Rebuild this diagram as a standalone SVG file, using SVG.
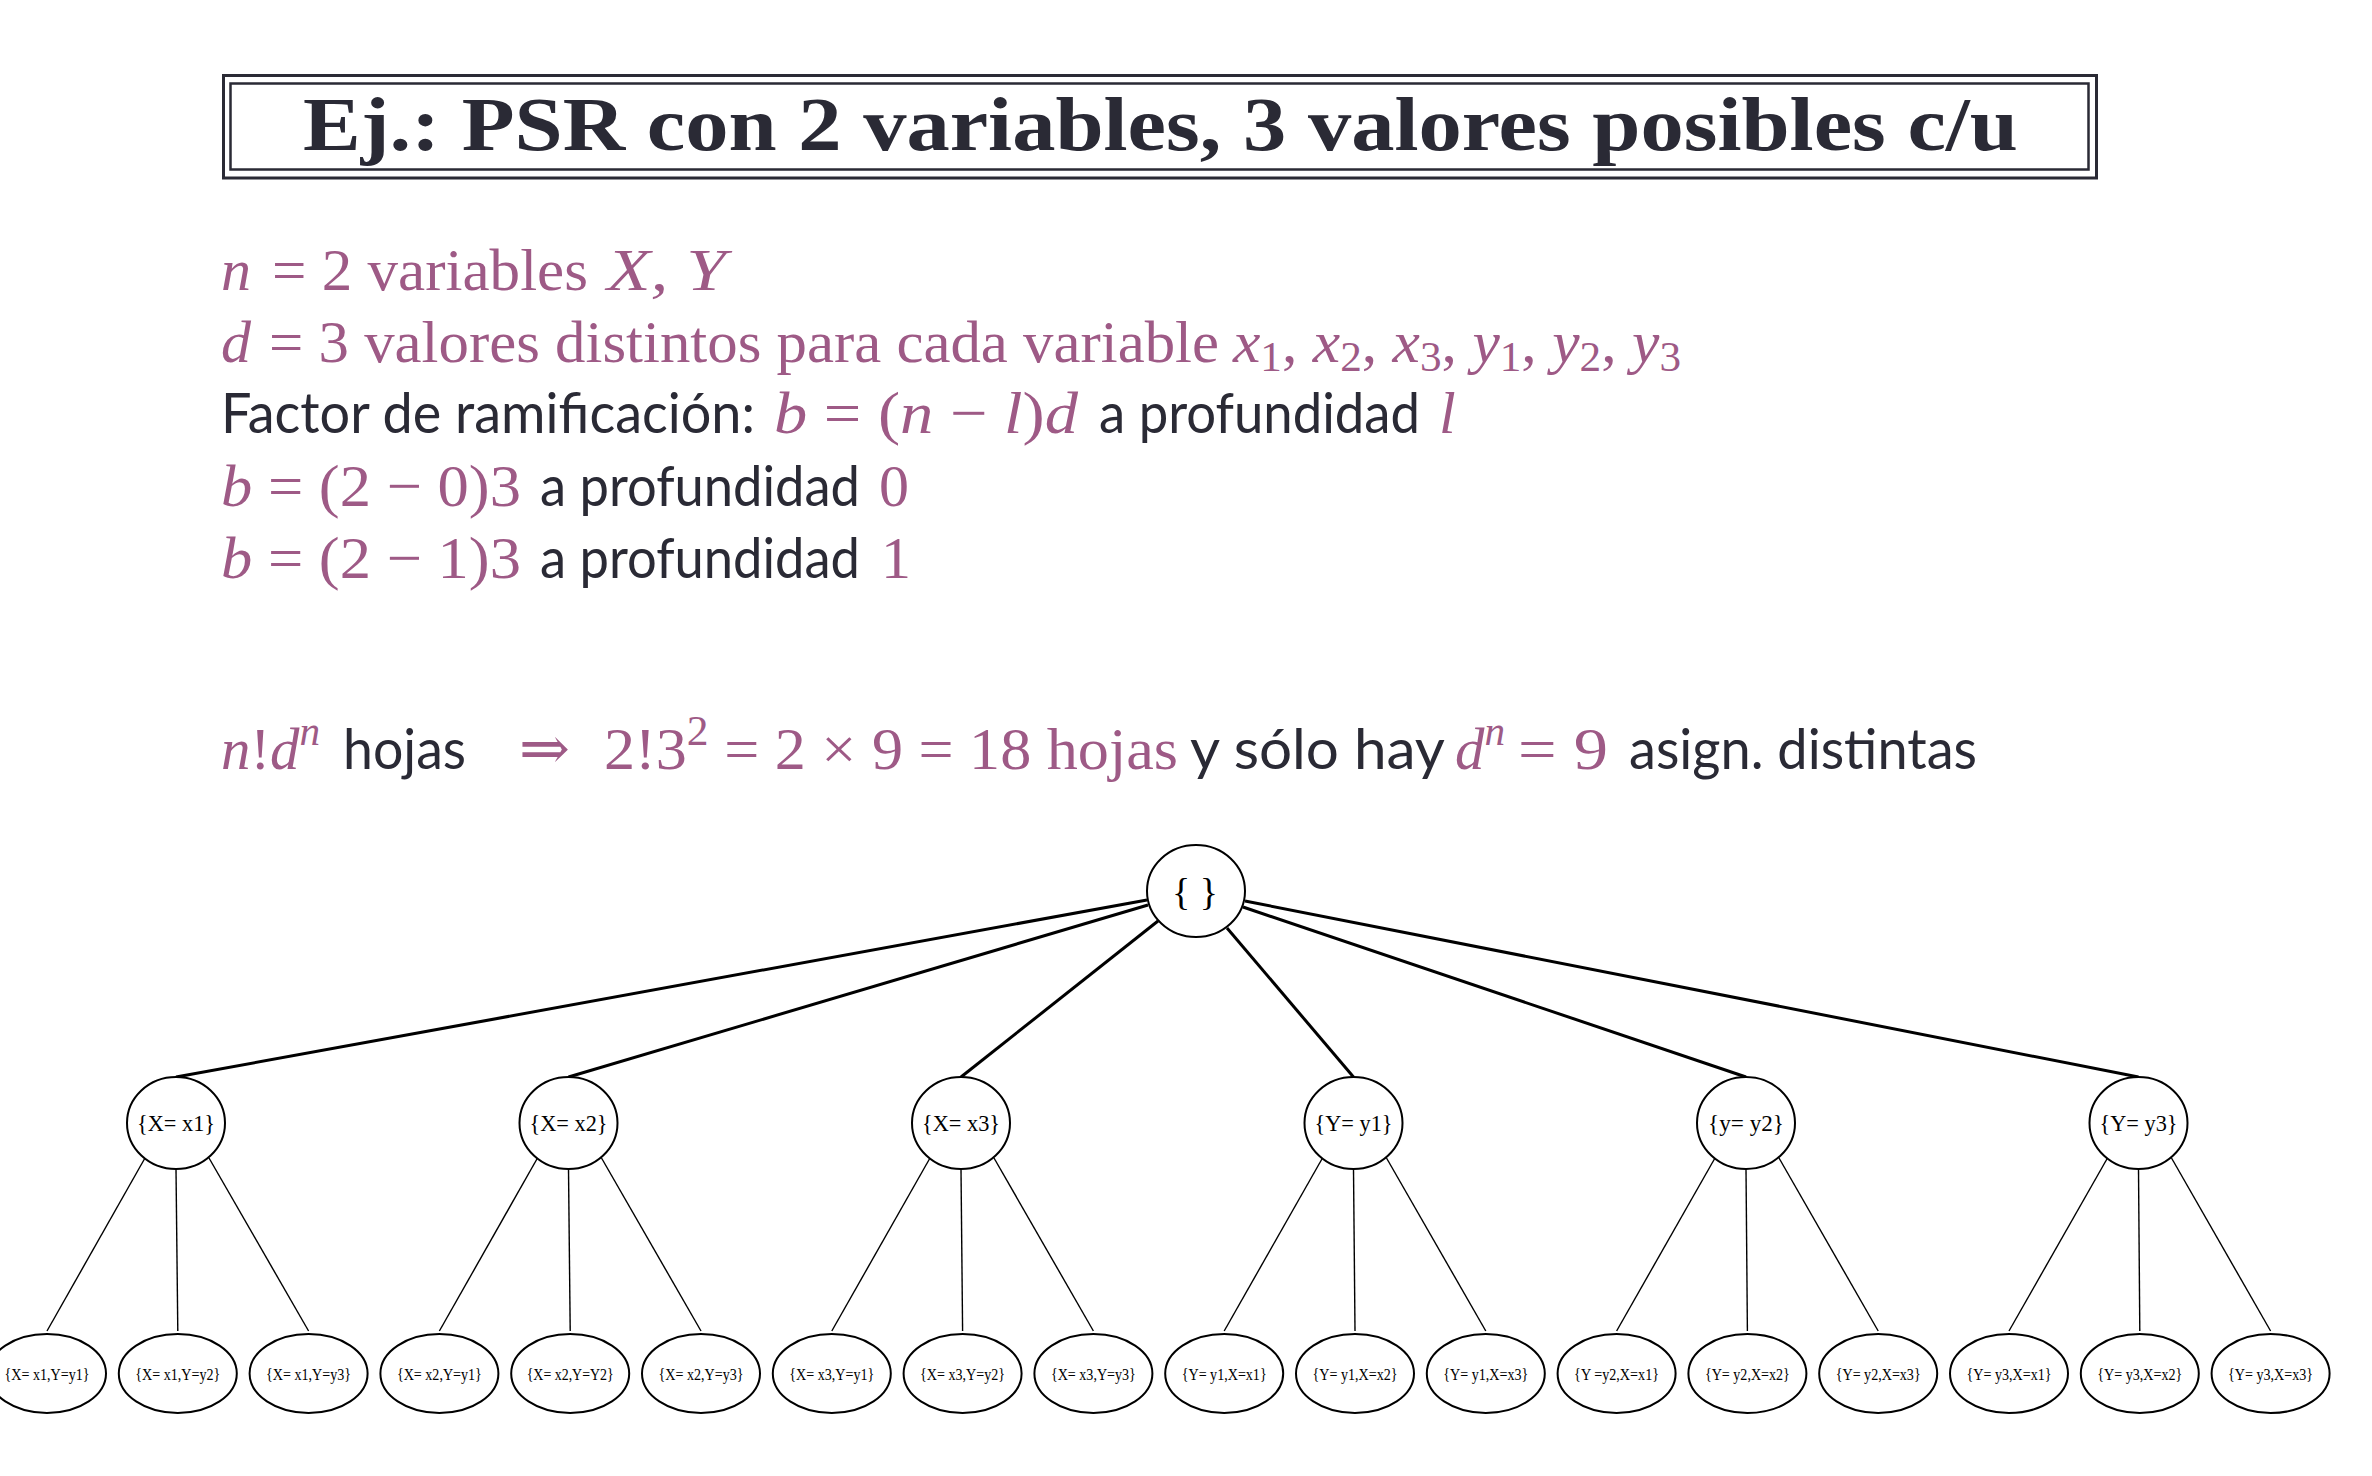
<svg xmlns="http://www.w3.org/2000/svg" width="2372" height="1476" viewBox="0 0 2372 1476">
<style>
.m{fill:#9e5a86;font-family:"Liberation Serif","DejaVu Serif",serif;font-size:60px}
.i{font-style:italic}
.u{font-style:normal}
.s{fill:#2a2a35;font-family:"Lato","Liberation Sans",sans-serif;font-size:56px}
.t{fill:#2a2a35;font-family:"Liberation Serif",serif;font-weight:bold;font-size:76px}
.node ellipse{fill:#fff;stroke:#000;stroke-width:2}
.node text{font-family:"Liberation Serif","Times New Roman",serif;fill:#000;text-anchor:middle}
.l1 text{font-size:24px}
.leaf text{font-size:17px}
.e0{stroke:#000;stroke-width:3;fill:none}
.e1{stroke:#000;stroke-width:1.4;fill:none}
</style>
<rect width="2372" height="1476" fill="#fff"/>
<g id="title">
<rect x="223.5" y="75.5" width="1873" height="102.5" fill="none" stroke="#2a2a35" stroke-width="3"/>
<rect x="230.5" y="83.5" width="1858" height="86" fill="none" stroke="#2a2a35" stroke-width="2.5"/>
<text class="t" x="303" y="150" textLength="1715" lengthAdjust="spacingAndGlyphs">Ej.: PSR con 2 variables, 3 valores posibles c/u</text>
</g>
<g id="texto">
<text class="m i" x="221" y="290">n</text>
<text class="m" x="272" y="290" textLength="316" lengthAdjust="spacingAndGlyphs">= 2 variables</text>
<text class="m i" x="607" y="290" textLength="119" lengthAdjust="spacingAndGlyphs">X, Y</text>

<text class="m i" x="221" y="362">d</text>
<text class="m" x="269" y="362" textLength="950" lengthAdjust="spacingAndGlyphs">= 3 valores distintos para cada variable</text>
<text class="m i" x="1233" y="362" textLength="448" lengthAdjust="spacingAndGlyphs">x<tspan class="u" font-size="42" dy="9">1</tspan><tspan class="u" dy="-9">, </tspan>x<tspan class="u" font-size="42" dy="9">2</tspan><tspan class="u" dy="-9">, </tspan>x<tspan class="u" font-size="42" dy="9">3</tspan><tspan class="u" dy="-9">, </tspan>y<tspan class="u" font-size="42" dy="9">1</tspan><tspan class="u" dy="-9">, </tspan>y<tspan class="u" font-size="42" dy="9">2</tspan><tspan class="u" dy="-9">, </tspan>y<tspan class="u" font-size="42" dy="9">3</tspan></text>

<text class="s" x="221" y="433" textLength="534" lengthAdjust="spacingAndGlyphs">Factor de ramificación:</text>
<text class="m" x="774" y="433" textLength="304" lengthAdjust="spacingAndGlyphs"><tspan class="i">b</tspan> = (<tspan class="i">n</tspan> − <tspan class="i">l</tspan>)<tspan class="i">d</tspan></text>
<text class="s" x="1099" y="433" textLength="321" lengthAdjust="spacingAndGlyphs">a profundidad</text>
<text class="m i" x="1439" y="433">l</text>

<text class="m" x="221" y="506" textLength="300" lengthAdjust="spacingAndGlyphs"><tspan class="i">b</tspan> = (2 − 0)3</text>
<text class="s" x="540" y="506" textLength="320" lengthAdjust="spacingAndGlyphs">a profundidad</text>
<text class="m" x="879" y="506">0</text>

<text class="m" x="221" y="578" textLength="300" lengthAdjust="spacingAndGlyphs"><tspan class="i">b</tspan> = (2 − 1)3</text>
<text class="s" x="540" y="578" textLength="320" lengthAdjust="spacingAndGlyphs">a profundidad</text>
<text class="m" x="881" y="578">1</text>

<text class="m" x="221" y="769" textLength="99" lengthAdjust="spacingAndGlyphs"><tspan class="i">n</tspan>!<tspan class="i">d</tspan><tspan class="i" font-size="42" dy="-24">n</tspan></text>
<text class="s" x="343" y="769" textLength="123" lengthAdjust="spacingAndGlyphs">hojas</text>
<text class="m" x="519" y="769" textLength="51" lengthAdjust="spacingAndGlyphs">⇒</text>
<text class="m" x="604" y="769" textLength="574" lengthAdjust="spacingAndGlyphs">2!3<tspan font-size="42" dy="-24">2</tspan><tspan dy="24"> = 2 × 9 = 18 hojas</tspan></text>
<text class="s" x="1190" y="769" textLength="255" lengthAdjust="spacingAndGlyphs">y sólo hay</text>
<text class="m" x="1455" y="769" textLength="50" lengthAdjust="spacingAndGlyphs"><tspan class="i">d</tspan><tspan class="i" font-size="42" dy="-24">n</tspan></text>
<text class="m" x="1518" y="769" textLength="90" lengthAdjust="spacingAndGlyphs">= 9</text>
<text class="s" x="1629" y="769" textLength="348" lengthAdjust="spacingAndGlyphs">asign. distintas</text>
</g>

<g id="connectors">
<path class="e0" d="M1147,900 L176,1077"/>
<path class="e0" d="M1148,905 L568.5,1077"/>
<path class="e0" d="M1158,921 L961,1077"/>
<path class="e0" d="M1227,928 L1353.5,1077"/>
<path class="e0" d="M1243,907 L1746,1077"/>
<path class="e0" d="M1245,901 L2138.5,1077"/>

<path class="e1" d="M145,1158 L47,1331"/>
<path class="e1" d="M176,1169 L177.8,1331"/>
<path class="e1" d="M209,1158 L308.6,1331"/>

<path class="e1" d="M537.5,1158 L439.4,1331"/>
<path class="e1" d="M568.5,1169 L570.2,1331"/>
<path class="e1" d="M601.5,1158 L701,1331"/>

<path class="e1" d="M930,1158 L831.8,1331"/>
<path class="e1" d="M961,1169 L962.6,1331"/>
<path class="e1" d="M994,1158 L1093.4,1331"/>

<path class="e1" d="M1322.5,1158 L1224.2,1331"/>
<path class="e1" d="M1353.5,1169 L1355,1331"/>
<path class="e1" d="M1386.5,1158 L1485.8,1331"/>

<path class="e1" d="M1715,1158 L1616.6,1331"/>
<path class="e1" d="M1746,1169 L1747.4,1331"/>
<path class="e1" d="M1779,1158 L1878.2,1331"/>

<path class="e1" d="M2107.5,1158 L2009,1331"/>
<path class="e1" d="M2138.5,1169 L2139.8,1331"/>
<path class="e1" d="M2171.5,1158 L2270.6,1331"/>
</g>

<g id="root" class="node">
<ellipse cx="1196" cy="891" rx="49" ry="46"/>
<text x="1195" y="905" font-size="38">{ }</text>
</g>

<g id="n_x1" class="node l1"><ellipse cx="176" cy="1123" rx="49" ry="46"/><text x="176" y="1131" textLength="78" lengthAdjust="spacingAndGlyphs">{X= x1}</text></g>
<g id="n_x2" class="node l1"><ellipse cx="568.5" cy="1123" rx="49" ry="46"/><text x="568.5" y="1131" textLength="78" lengthAdjust="spacingAndGlyphs">{X= x2}</text></g>
<g id="n_x3" class="node l1"><ellipse cx="961" cy="1123" rx="49" ry="46"/><text x="961" y="1131" textLength="78" lengthAdjust="spacingAndGlyphs">{X= x3}</text></g>
<g id="n_y1" class="node l1"><ellipse cx="1353.5" cy="1123" rx="49" ry="46"/><text x="1353.5" y="1131" textLength="78" lengthAdjust="spacingAndGlyphs">{Y= y1}</text></g>
<g id="n_y2" class="node l1"><ellipse cx="1746" cy="1123" rx="49" ry="46"/><text x="1746" y="1131" textLength="76" lengthAdjust="spacingAndGlyphs">{y= y2}</text></g>
<g id="n_y3" class="node l1"><ellipse cx="2138.5" cy="1123" rx="49" ry="46"/><text x="2138.5" y="1131" textLength="78" lengthAdjust="spacingAndGlyphs">{Y= y3}</text></g>

<g id="leaf1" class="node leaf"><ellipse cx="47" cy="1373.5" rx="59" ry="39.5"/><text x="47" y="1380" textLength="85" lengthAdjust="spacingAndGlyphs">{X= x1,Y=y1}</text></g>
<g id="leaf2" class="node leaf"><ellipse cx="177.8" cy="1373.5" rx="59" ry="39.5"/><text x="177.8" y="1380" textLength="85" lengthAdjust="spacingAndGlyphs">{X= x1,Y=y2}</text></g>
<g id="leaf3" class="node leaf"><ellipse cx="308.6" cy="1373.5" rx="59" ry="39.5"/><text x="308.6" y="1380" textLength="85" lengthAdjust="spacingAndGlyphs">{X= x1,Y=y3}</text></g>
<g id="leaf4" class="node leaf"><ellipse cx="439.4" cy="1373.5" rx="59" ry="39.5"/><text x="439.4" y="1380" textLength="85" lengthAdjust="spacingAndGlyphs">{X= x2,Y=y1}</text></g>
<g id="leaf5" class="node leaf"><ellipse cx="570.2" cy="1373.5" rx="59" ry="39.5"/><text x="570.2" y="1380" textLength="87" lengthAdjust="spacingAndGlyphs">{X= x2,Y=Y2}</text></g>
<g id="leaf6" class="node leaf"><ellipse cx="701" cy="1373.5" rx="59" ry="39.5"/><text x="701" y="1380" textLength="85" lengthAdjust="spacingAndGlyphs">{X= x2,Y=y3}</text></g>
<g id="leaf7" class="node leaf"><ellipse cx="831.8" cy="1373.5" rx="59" ry="39.5"/><text x="831.8" y="1380" textLength="85" lengthAdjust="spacingAndGlyphs">{X= x3,Y=y1}</text></g>
<g id="leaf8" class="node leaf"><ellipse cx="962.6" cy="1373.5" rx="59" ry="39.5"/><text x="962.6" y="1380" textLength="85" lengthAdjust="spacingAndGlyphs">{X= x3,Y=y2}</text></g>
<g id="leaf9" class="node leaf"><ellipse cx="1093.4" cy="1373.5" rx="59" ry="39.5"/><text x="1093.4" y="1380" textLength="85" lengthAdjust="spacingAndGlyphs">{X= x3,Y=y3}</text></g>
<g id="leaf10" class="node leaf"><ellipse cx="1224.2" cy="1373.5" rx="59" ry="39.5"/><text x="1224.2" y="1380" textLength="85" lengthAdjust="spacingAndGlyphs">{Y= y1,X=x1}</text></g>
<g id="leaf11" class="node leaf"><ellipse cx="1355" cy="1373.5" rx="59" ry="39.5"/><text x="1355" y="1380" textLength="85" lengthAdjust="spacingAndGlyphs">{Y= y1,X=x2}</text></g>
<g id="leaf12" class="node leaf"><ellipse cx="1485.8" cy="1373.5" rx="59" ry="39.5"/><text x="1485.8" y="1380" textLength="85" lengthAdjust="spacingAndGlyphs">{Y= y1,X=x3}</text></g>
<g id="leaf13" class="node leaf"><ellipse cx="1616.6" cy="1373.5" rx="59" ry="39.5"/><text x="1616.6" y="1380" textLength="85" lengthAdjust="spacingAndGlyphs">{Y =y2,X=x1}</text></g>
<g id="leaf14" class="node leaf"><ellipse cx="1747.4" cy="1373.5" rx="59" ry="39.5"/><text x="1747.4" y="1380" textLength="85" lengthAdjust="spacingAndGlyphs">{Y= y2,X=x2}</text></g>
<g id="leaf15" class="node leaf"><ellipse cx="1878.2" cy="1373.5" rx="59" ry="39.5"/><text x="1878.2" y="1380" textLength="85" lengthAdjust="spacingAndGlyphs">{Y= y2,X=x3}</text></g>
<g id="leaf16" class="node leaf"><ellipse cx="2009" cy="1373.5" rx="59" ry="39.5"/><text x="2009" y="1380" textLength="85" lengthAdjust="spacingAndGlyphs">{Y= y3,X=x1}</text></g>
<g id="leaf17" class="node leaf"><ellipse cx="2139.8" cy="1373.5" rx="59" ry="39.5"/><text x="2139.8" y="1380" textLength="85" lengthAdjust="spacingAndGlyphs">{Y= y3,X=x2}</text></g>
<g id="leaf18" class="node leaf"><ellipse cx="2270.6" cy="1373.5" rx="59" ry="39.5"/><text x="2270.6" y="1380" textLength="85" lengthAdjust="spacingAndGlyphs">{Y= y3,X=x3}</text></g>
</svg>
